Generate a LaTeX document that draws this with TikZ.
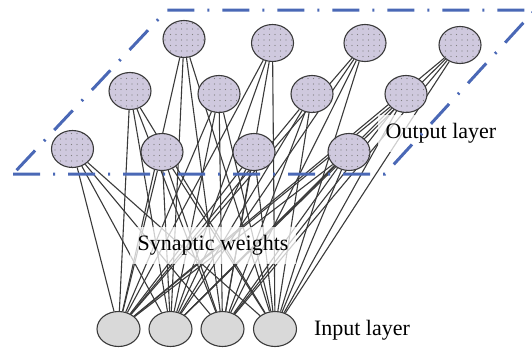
\documentclass[tikz,border=0pt]{standalone}
\usepackage{fontspec}
\setmainfont{Liberation Serif}
\usetikzlibrary{shapes.geometric, patterns.meta}
\usetikzlibrary{backgrounds}
\definecolor{layerblue}{HTML}{4A68B6}
\definecolor{neuronfill}{HTML}{CFC9DE}
\definecolor{inputfill}{HTML}{D9D9D9}
\definecolor{wire}{HTML}{3A3A3A}

\begin{document}
\begin{tikzpicture}[x = 1pt, y = -1pt, font = \fontsize{22}{26}\selectfont,
    neuron/.style = {ellipse, draw = wire, line width = 1.1pt, minimum width = 42pt, minimum height = 37pt, inner sep = 0pt,
        preaction = {fill = neuronfill}, pattern = {Dots[distance = 5.5pt, radius = 0.55pt]}, pattern color = gray},
    inneuron/.style = {ellipse, draw = wire, line width = 1.1pt, fill = inputfill, minimum width = 43pt, minimum height = 35pt, inner sep = 0pt},
    synapse/.style = {wire, line width = 1.1pt},
    tag/.style = {fill = white, fill opacity = 0.75, text opacity = 1, inner xsep = 8pt, minimum height = 37pt}]
    \useasboundingbox (0,0) rectangle (532,348);

    % input layer
    \node[inneuron] (i1) at (118.5,329) {};
    \node[inneuron] (i2) at (170.5,329) {};
    \node[inneuron] (i3) at (222.5,329) {};
    \node[inneuron] (i4) at (275,329) {};

    % output layer, back row to front row
    \node[neuron] (o1) at (184,39) {};
    \node[neuron] (o2) at (272.5,43) {};
    \node[neuron] (o3) at (365,43) {};
    \node[neuron] (o4) at (460,45) {};
    \node[neuron] (o5) at (130,91) {};
    \node[neuron] (o6) at (219,94) {};
    \node[neuron] (o7) at (312,94) {};
    \node[neuron] (o8) at (406,94) {};
    \node[neuron] (o9) at (72.5,149) {};
    \node[neuron] (o10) at (162,152) {};
    \node[neuron] (o11) at (254,152) {};
    \node[neuron] (o12) at (349,152) {};

    % synaptic weights, behind the neurons
    \begin{pgfonlayer}{background}
    \foreach \i in {1,...,4}
        \foreach \o in {1,...,12}
            \draw[synapse] (i\i) -- (o\o);
    \end{pgfonlayer}

    \node[tag] (weights) at (213,245) {Synaptic weights};
    \node[tag] (outlabel) at (441,133) {Output layer};
    \node (inlabel) at (362,330) {Input layer};

    \draw[layerblue, line width = 3pt, dash pattern = on 27pt off 13pt on 2pt off 13pt]
        (13,174) -- (385,174) -- (535,10) -- (167,10) -- cycle;
\end{tikzpicture}
\end{document}
